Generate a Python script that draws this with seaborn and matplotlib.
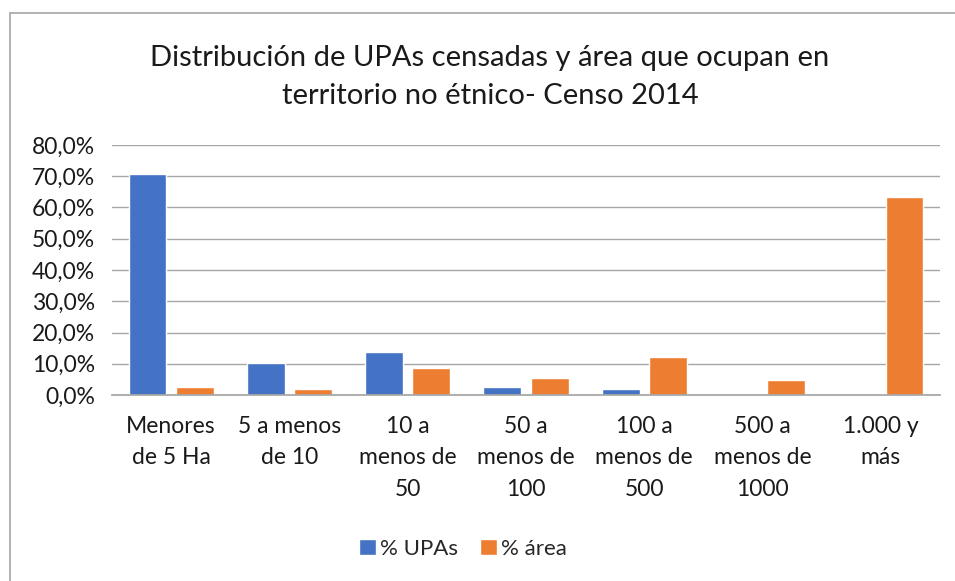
import matplotlib
matplotlib.use("Agg")
import matplotlib.pyplot as plt
import matplotlib.ticker as mticker
from matplotlib.patches import Patch
from matplotlib.lines import Line2D
import pandas as pd
import seaborn as sns

categories = ["Menores\nde 5 Ha", "5 a menos\nde 10", "10 a\nmenos de\n50", "50 a\nmenos de\n100",
              "100 a\nmenos de\n500", "500 a\nmenos de\n1000", "1.000 y\nmás"]
upas = [0.706, 0.104, 0.137, 0.026, 0.019, 0.0, 0.0]
area = [0.026, 0.020, 0.088, 0.055, 0.123, 0.048, 0.633]
series = ["% UPAs", "% área"]
colors = ["#4472C4", "#ED7D31"]

df = pd.DataFrame({
    "cat": categories * 2,
    "serie": [series[0]] * len(categories) + [series[1]] * len(categories),
    "valor": upas + area,
})

sns.set_theme(style="white")
plt.rcParams["font.family"] = ["Lato", "DejaVu Sans"]

fig = plt.figure(figsize=(9.55, 5.81), dpi=100)
ax = fig.add_axes([112 / 955, 1 - 395 / 581, 828 / 955, 250 / 581])

sns.barplot(data=df, x="cat", y="valor", hue="serie", palette=colors, width=0.8, gap=0.2,
            ax=ax, legend=False, saturation=1)

ax.set_ylim(0, 0.8)
ax.yaxis.set_major_locator(mticker.MultipleLocator(0.1))
ax.yaxis.set_major_formatter(mticker.FuncFormatter(lambda v, p: f"{v * 100:.1f}%".replace(".", ",")))
ax.grid(axis="y", color="#A6A6A6", lw=1)
ax.set_axisbelow(True)
for s in ["top", "right", "left"]:
    ax.spines[s].set_visible(False)
ax.spines["bottom"].set_color("#A6A6A6")
ax.set_xlabel("")
ax.set_ylabel("")
ax.tick_params(axis="y", labelsize=16.5, length=0, pad=12, colors="#1a1a1a")
ax.tick_params(axis="x", labelsize=16.5, length=0, pad=15, colors="#1a1a1a")
for t in ax.get_xticklabels():
    t.set_linespacing(1.62)
    t.set_va("top")

fig.text(490 / 955, 1 - 77 / 581, "Distribución de UPAs censadas y área que ocupan en\nterritorio no étnico- Censo 2014",
         ha="center", va="center", fontsize=21, linespacing=1.55, color="#1a1a1a")

handles = [Patch(facecolor=c, label=s) for c, s in zip(colors, series)]
fig.legend(handles=handles, loc="center", bbox_to_anchor=(463 / 955, 1 - 549 / 581), ncol=2,
           frameon=False, fontsize=16, handlelength=0.75, handleheight=0.75, handletextpad=0.2,
           columnspacing=1.0)

# chart border (left and top edges)
fig.add_artist(Line2D([10 / 955, 10 / 955], [0, 1 - 13 / 581], color="#A6A6A6", lw=1.2,
                      transform=fig.transFigure))
fig.add_artist(Line2D([10 / 955, 1], [1 - 13 / 581, 1 - 13 / 581], color="#A6A6A6", lw=1.2,
                      transform=fig.transFigure))

fig.savefig("out.png", dpi=100)
